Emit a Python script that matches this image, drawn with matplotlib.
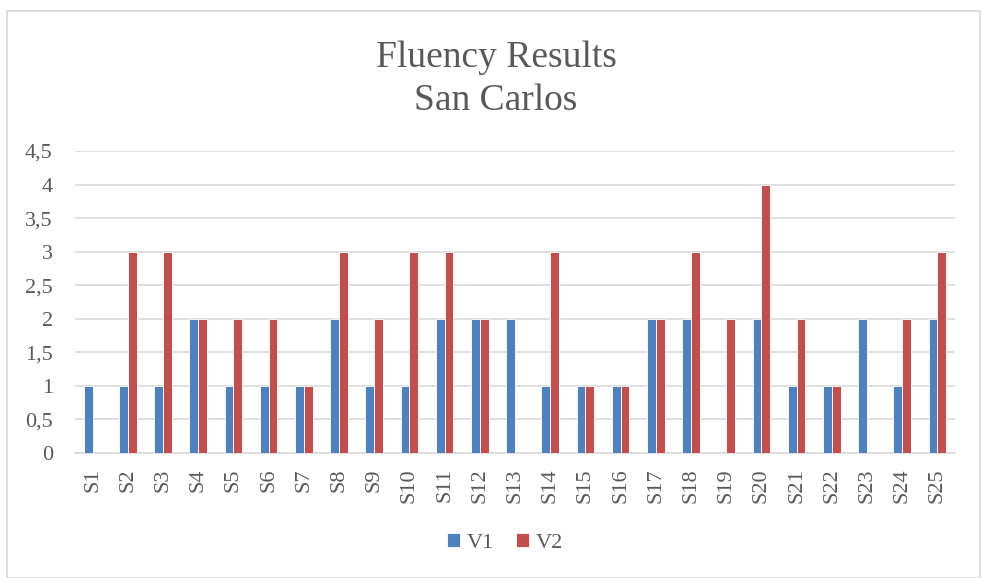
import matplotlib
matplotlib.use("Agg")
import matplotlib.pyplot as plt
import numpy as np
from matplotlib.patches import Rectangle

categories = [f"S{i}" for i in range(1, 26)]
v1 = [1, 1, 1, 2, 1, 1, 1, 2, 1, 1, 2, 2, 2, 1, 1, 1, 2, 2, 0, 2, 1, 1, 2, 1, 2]
v2 = [0, 3, 3, 2, 2, 2, 1, 3, 2, 3, 3, 2, 0, 3, 1, 1, 2, 3, 2, 4, 2, 1, 0, 2, 3]
yticks = [0, 0.5, 1, 1.5, 2, 2.5, 3, 3.5, 4, 4.5]
ytick_labels = ["0", "0,5", "1", "1,5", "2", "2,5", "3", "3,5", "4", "4,5"]

plt.rcParams['font.family'] = ['Liberation Serif', 'DejaVu Serif']
txt = '#595959'
blue = '#4F81BD'
red = '#C0504D'

W, H = 983, 578
fig = plt.figure(figsize=(W/100, H/100), dpi=100)
ax = fig.add_axes([75/W, 1-453/H, (955-75)/W, (453-151)/H])

x = np.arange(len(categories))
bw = 0.25
ax.bar(x - bw/2, v1, bw, color=blue, edgecolor='white', linewidth=0.6, label='V1', zorder=3)
ax.bar(x + bw/2, v2, bw, color=red, edgecolor='white', linewidth=0.6, label='V2', zorder=3)

ax.set_xlim(-0.5, len(categories) - 0.5)
ax.set_ylim(0, 4.5)
ax.set_yticks(yticks)
ax.set_yticklabels(ytick_labels)
ax.set_xticks(x)
ax.set_xticklabels(categories, rotation=90)
ax.tick_params(axis='both', length=0, labelsize=16, colors=txt)
ax.tick_params(axis='y', pad=16)
ax.tick_params(axis='x', pad=11)
ax.grid(axis='y', color='#D9D9D9', linewidth=1.2, zorder=0)
for s in ['top', 'right', 'left']:
    ax.spines[s].set_visible(False)
ax.spines['bottom'].set_color('#D9D9D9')
ax.spines['bottom'].set_linewidth(1.2)

fig.text(496/W, 1-67/H, "Fluency Results", ha='center', va='baseline', fontsize=27, color=txt)
fig.text(496/W, 1-110/H, "San Carlos", ha='center', va='baseline', fontsize=27, color=txt)

leg = fig.legend(loc='center', bbox_to_anchor=(505/W, 1-543/H), ncol=2, frameon=False,
                 fontsize=16, handlelength=0.6, handleheight=0.6, handletextpad=0.3,
                 columnspacing=1.0)
for t in leg.get_texts():
    t.set_color(txt)

fig.patches.append(Rectangle((7/W, 0), (980-7)/W, 1-11/H, transform=fig.transFigure,
                             fill=False, edgecolor='#D9D9D9', linewidth=1.2))

fig.savefig("out.png", dpi=100)
